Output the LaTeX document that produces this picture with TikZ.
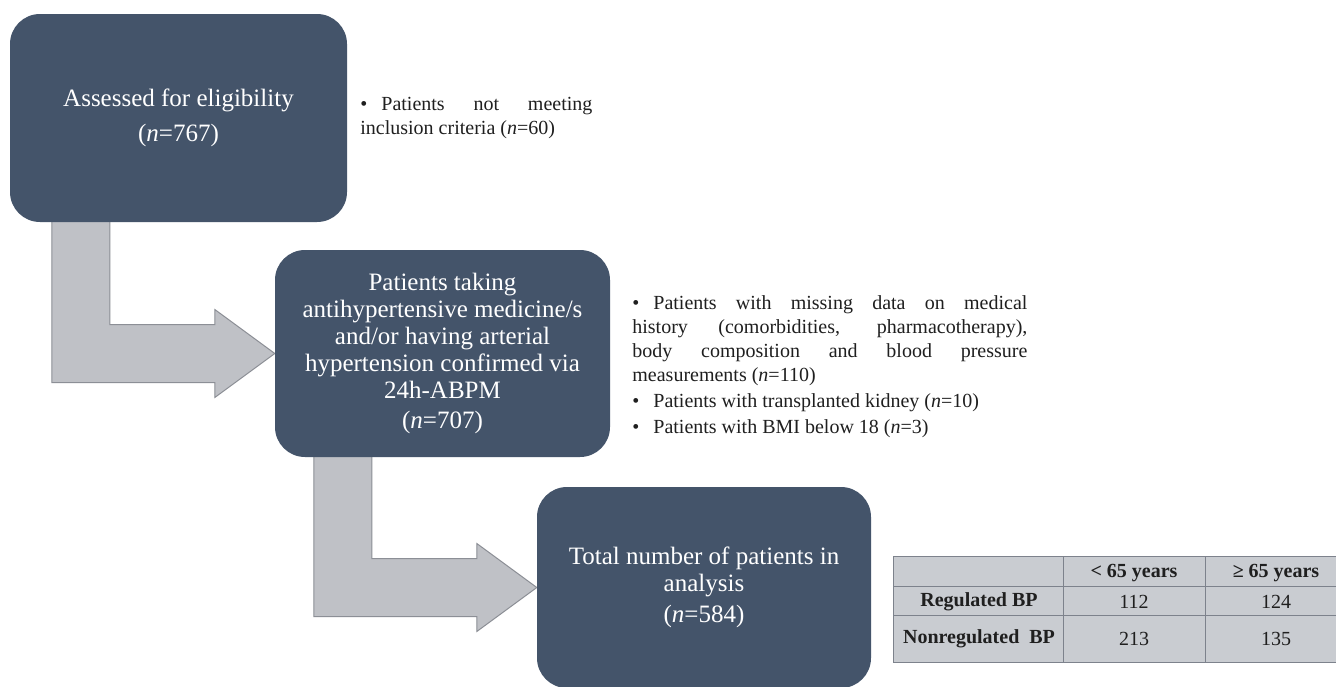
\documentclass[tikz,border=0pt]{standalone}
\usepackage{fontspec}
\setmainfont{Liberation Serif}
\usetikzlibrary{positioning,calc,backgrounds}
\definecolor{boxblue}{RGB}{68,84,106}
\definecolor{arrowgrey}{RGB}{191,193,198}
\definecolor{arrowedge}{RGB}{140,143,150}
\definecolor{cellgrey}{RGB}{201,204,209}
\definecolor{celledge}{RGB}{125,130,140}
\newcommand{\jline}[2]{\makebox[#1][s]{#2}}
\newcommand{\dotmark}{\makebox[21pt][l]{•}}
\newcommand{\bentarrow}[3]{\path[bentbody] let \p1=(#1.south west), \p2=(#2.west) in
  (\x1+#3, \y1+6pt) -- (\x1+#3+58pt, \y1+6pt) -- (\x1+#3+58pt, \y2+29pt)
  -- (\x2-60pt, \y2+29pt) -- (\x2-60pt, \y2+44pt) -- (\x2, \y2)
  -- (\x2-60pt, \y2-44pt) -- (\x2-60pt, \y2-29pt) -- (\x1+#3, \y2-29pt) -- cycle;}
\tikzset{
  stage/.style={fill=boxblue, rounded corners=30pt, text=white, align=center,
    inner sep=0pt, font=\fontsize{25}{27}\selectfont},
  note/.style={align=left, inner sep=0pt, font=\fontsize{20}{24}\selectfont, text=black!88},
  bentbody/.style={fill=arrowgrey, draw=arrowedge, line width=1pt},
  cell/.style={font=\fontsize{20}{24}\selectfont, text=black!88},
  hcell/.style={cell, font=\fontsize{20}{24}\selectfont\bfseries}
}

\begin{document}
\begin{tikzpicture}[x=1pt, y=-1pt]
  \useasboundingbox (0,0) rectangle (1336,686);
  \node[stage, minimum width=337pt, minimum height=208pt] (assessed) at (178.5,118)
    {Assessed for eligibility\\[8pt](\textit{n}=767)};
  \node[stage, minimum width=335pt, minimum height=207pt] (hyper) at (442.5,353.5)
    {Patients taking\\antihypertensive medicine/s\\and/or having arterial\\hypertension confirmed via\\24h-ABPM\\[3pt](\textit{n}=707)};
  \node[stage, minimum width=334pt, minimum height=201pt] (total) at (704,587.5)
    {Total number of patients in\\analysis\\[4pt](\textit{n}=584)};

  % exclusions
  \node[note, right=13pt of assessed] (notmeet)
    {\dotmark\jline{211pt}{Patients not meeting}\\inclusion criteria (\textit{n}=60)};
  \node[note, right=22pt of hyper, yshift=-13pt] (missing)
    {\dotmark\jline{374pt}{Patients with missing data on medical}\\
     \jline{395pt}{history (comorbidities, pharmacotherapy),}\\
     \jline{395pt}{body composition and blood pressure}\\
     measurements (\textit{n}=110)\\[2pt]
     \dotmark Patients with transplanted kidney (\textit{n}=10)\\[2pt]
     \dotmark Patients with BMI below 18 (\textit{n}=3)};

  \begin{pgfonlayer}{background}
    \fill[white] (0,0) rectangle (1336,686);
    \bentarrow{assessed}{hyper}{42pt}
    \bentarrow{hyper}{total}{39pt}
  \end{pgfonlayer}

  % table
  \coordinate (tbl) at (893,556);
  \fill[cellgrey] (tbl) rectangle ++(454,106);
  \draw[celledge] (tbl) rectangle ++(454,106);
  \foreach \ry in {30,59} \draw[celledge] ($(tbl)+(0,\ry)$) -- ++(454,0);
  \foreach \cx in {170,312} \draw[celledge] ($(tbl)+(\cx,0)$) -- ++(0,106);
  \node[hcell] (lowage) at ($(tbl)+(241,17)$) {< 65 years};
  \node[hcell] (highage) at ($(tbl)+(383,17)$) {≥ 65 years};
  \node[hcell] (regbp) at ($(tbl)+(86,46)$) {Regulated BP};
  \node[hcell] (nonregbp) at ($(tbl)+(86,83)$) {Nonregulated\enspace BP};
  \node[cell] (reglow) at ($(tbl)+(241,46)$) {112};
  \node[cell] (reghigh) at ($(tbl)+(383,46)$) {124};
  \node[cell] (nonlow) at ($(tbl)+(241,83)$) {213};
  \node[cell] (nonhigh) at ($(tbl)+(383,83)$) {135};
\end{tikzpicture}
\end{document}
